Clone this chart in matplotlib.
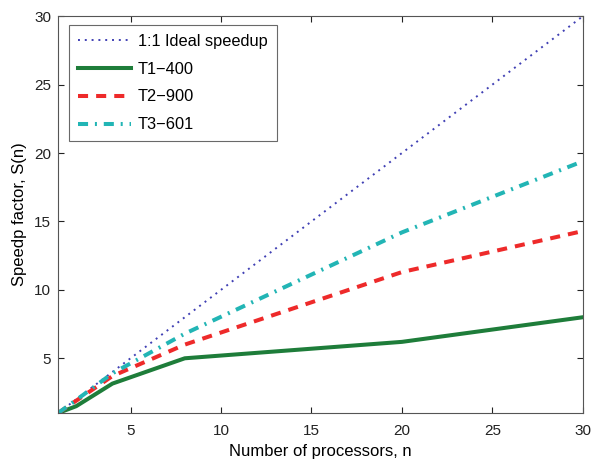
import matplotlib
matplotlib.use("Agg")
import matplotlib.pyplot as plt

plt.rcParams['font.family'] = ['Liberation Sans', 'DejaVu Sans']

n_ideal = [1, 30]
s_ideal = [1, 30]

n = [1, 2, 4, 8, 20, 30]
t1_400 = [1, 1.5, 3.15, 5.0, 6.2, 8.0]
t2_900 = [1, 1.9, 3.7, 6.0, 11.3, 14.3]
t3_601 = [1, 1.95, 3.9, 6.8, 14.2, 19.4]

labels = ["1:1 Ideal speedup", "T1\u2212400", "T2\u2212900", "T3\u2212601"]
xticks = [5, 10, 15, 20, 25, 30]
yticks = [5, 10, 15, 20, 25, 30]

fig = plt.figure(figsize=(5.93, 4.62), dpi=100)
ax = fig.add_axes([0.098, 0.106, 0.885, 0.859])

ax.plot(n_ideal, s_ideal, color='#4040b4', lw=1.4, dashes=(1.0, 2.5), label=labels[0])
ax.plot(n, t1_400, color='#1e7d3a', lw=2.9, label=labels[1])
ax.plot(n, t2_900, color='#ee2a2a', lw=2.9, dashes=(2.5, 2.0), label=labels[2])
ax.plot(n, t3_601, color='#22b5b5', lw=2.9, dashes=(2.5, 1.7, 0.5, 1.7), label=labels[3])

ax.set_xlim(1, 30)
ax.set_ylim(1, 30)
ax.set_xticks(xticks)
ax.set_yticks(yticks)
ax.tick_params(direction='in', top=True, right=True, length=4, width=0.8,
               labelsize=11, colors='#222222')
ax.tick_params(axis='x', pad=8)
ax.tick_params(axis='y', pad=5)
for sp in ax.spines.values():
    sp.set_color('#555555')
    sp.set_linewidth(0.8)

ax.set_xlabel("Number of processors, n", fontsize=12, labelpad=4)
ax.set_ylabel("Speedp factor, S(n)", fontsize=12, labelpad=5)

leg = ax.legend(loc='upper left', bbox_to_anchor=(0.021, 0.978), borderaxespad=0,
                fontsize=11.8, frameon=True, fancybox=False,
                edgecolor='#444444', handlelength=3.2, borderpad=0.55,
                labelspacing=0.78, handletextpad=0.45)
leg.get_frame().set_linewidth(0.8)

fig.savefig("out.png", dpi=100)
